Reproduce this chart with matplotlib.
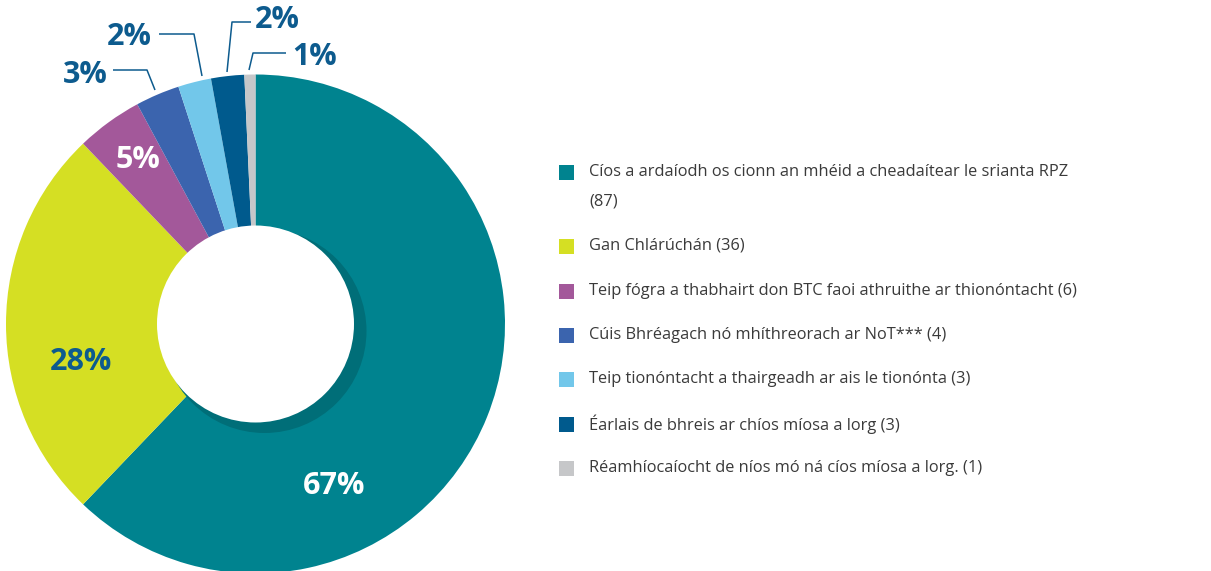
import matplotlib
matplotlib.use("Agg")
import matplotlib.pyplot as plt
from matplotlib.patches import Circle, Rectangle

# ---- data ----
categories = [
    "Cíos a ardaíodh os cionn an mhéid a cheadaítear le srianta RPZ\n(87)",
    "Gan Chlárúchán (36)",
    "Teip fógra a thabhairt don BTC faoi athruithe ar thionóntacht (6)",
    "Cúis Bhréagach nó mhíthreorach ar NoT*** (4)",
    "Teip tionóntacht a thairgeadh ar ais le tionónta (3)",
    "Éarlais de bhreis ar chíos míosa a lorg (3)",
    "Réamhíocaíocht de níos mó ná cíos míosa a lorg. (1)",
]
counts = [87, 36, 6, 4, 3, 3, 1]
pct_labels = ["67%", "28%", "5%", "3%", "2%", "2%", "1%"]
colors = ["#00838F", "#D5DF23", "#A3589A", "#3B64AE", "#72C7EA", "#005A8D", "#C6C7C9"]

W, H = 1211, 571
fig = plt.figure(figsize=(W / 100, H / 100), dpi=100)
ax = fig.add_axes([0, 0, 1, 1])

cx, cy, R = 255.5, H - 324, 249.5
wedges, _ = ax.pie(counts, colors=colors, startangle=90, counterclock=False,
                   center=(cx, cy), radius=R, wedgeprops=dict(linewidth=0))
ax.set_xlim(0, W)
ax.set_ylim(0, H)
ax.set_aspect("equal")
ax.axis("off")

# inner hole with shadow
ax.add_patch(Circle((cx + 9, cy - 7), 102, color="#006E78", zorder=3, lw=0))
ax.add_patch(Circle((cx, cy), 98.5, color="white", zorder=4, lw=0))

lab_blue = "#0D5B8E"
pfont = dict(family="Open Sans", weight="bold", fontsize=22)

# inside labels
ax.text(334, H - 486, pct_labels[0], color="white", ha="center", va="center", zorder=5, **pfont)
ax.text(81, H - 362, pct_labels[1], color=lab_blue, ha="center", va="center", zorder=5, **pfont)
ax.text(138, H - 160, pct_labels[2], color="white", ha="center", va="center", zorder=5, **pfont)

# outside labels with leader lines
outside = [
    (3, (85, 75), [(113, 70), (147, 70), (155, 90)]),
    (4, (129, 37), [(159, 34), (194, 34), (202, 76)]),
    (5, (277, 20), [(251, 22), (232, 22), (227, 72)]),
    (6, (315, 57), [(286, 53), (253, 53), (249, 70)]),
]
for idx, (tx, ty), pts in outside:
    ax.text(tx, H - ty, pct_labels[idx], color=lab_blue, ha="center", va="center", zorder=5, **pfont)
    ax.plot([p[0] for p in pts], [H - p[1] for p in pts], color=lab_blue, lw=1.1, zorder=5,
            solid_capstyle="butt")

# legend
legfont = dict(color="#3A3A3A", fontsize=11.8, family=["Open Sans", "DejaVu Sans"], zorder=5)
leg_y = [172, 246, 291, 335, 379, 424, 468]
for i, (lab, col) in enumerate(zip(categories, colors)):
    y = H - leg_y[i]
    ax.add_patch(Rectangle((559, y - 7.5), 14.5, 15, color=col, lw=0, zorder=5))
    lines = lab.split("\n")
    ax.text(589, y, lines[0], ha="left", va="center", **legfont)
    if len(lines) > 1:
        ax.text(589, H - 202, lines[1], ha="left", va="center", **legfont)

fig.savefig("out.png", dpi=100)
